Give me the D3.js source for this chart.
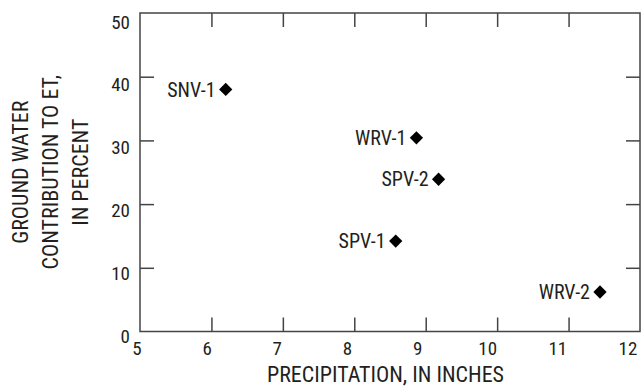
<!DOCTYPE html>
<html>
<head>
<meta charset="utf-8">
<script src="https://cdn.jsdelivr.net/npm/d3@7"></script>
<style>
  html, body { margin: 0; padding: 0; background: #fff; }
  svg text { font-family: "Roboto Condensed", "Roboto", sans-serif; fill: #231f20; }
</style>
</head>
<body>
<svg id="chart" width="641" height="387"></svg>
<script>
const sites = ["SNV-1", "WRV-1", "SPV-2", "SPV-1", "WRV-2"];
const precipitation = [6.2, 8.87, 9.18, 8.58, 11.44];
const gwContribution = [38.0, 30.4, 23.9, 14.2, 6.2];
const xTicks = [5, 6, 7, 8, 9, 10, 11, 12];
const yTicks = [0, 10, 20, 30, 40, 50];
const xTitle = "PRECIPITATION, IN INCHES";
const yTitleLines = ["GROUND WATER", "CONTRIBUTION TO ET,", "IN PERCENT"];

const svg = d3.select("#chart");
const L = 140, R = 640, T = 13, B = 331.5;
const x = d3.scaleLinear().domain([5, 12]).range([L, R]);
const y = d3.scaleLinear().domain([0, 50]).range([B, T]);
// tick labels in the original figure sit on a slightly tighter grid than the ticks
const xLab = d3.scaleLinear().domain([5, 12]).range([137, 628]);
const yLab = d3.scaleLinear().domain([0, 50]).range([336, 21.7]);
const tickLen = 14;
const axisColor = "#444";

// frame
svg.append("rect")
  .attr("x", L).attr("y", T).attr("width", R - L).attr("height", B - T)
  .attr("fill", "none").attr("stroke", axisColor).attr("stroke-width", 1.5);

// inner tick marks on all four sides
const gB = svg.append("g").attr("transform", `translate(0,${B})`)
  .call(d3.axisBottom(x).tickValues(xTicks.slice(1, -1)).tickSize(-tickLen).tickFormat(""));
const gT = svg.append("g").attr("transform", `translate(0,${T})`)
  .call(d3.axisTop(x).tickValues(xTicks.slice(1, -1)).tickSize(-tickLen).tickFormat(""));
const gL = svg.append("g").attr("transform", `translate(${L},0)`)
  .call(d3.axisLeft(y).tickValues(yTicks.slice(1, -1)).tickSize(-tickLen).tickFormat(""));
const gR = svg.append("g").attr("transform", `translate(${R},0)`)
  .call(d3.axisRight(y).tickValues(yTicks.slice(1, -1)).tickSize(-tickLen).tickFormat(""));
[gB, gT, gL, gR].forEach(g => {
  g.select(".domain").remove();
  g.selectAll(".tick line").attr("stroke", axisColor).attr("stroke-width", 1.5);
});

// tick labels
svg.append("g").selectAll("text").data(xTicks).join("text")
  .attr("x", d => xLab(d)).attr("y", 355)
  .attr("text-anchor", "middle").attr("font-size", 19)
  .text(d => d);
svg.append("g").selectAll("text").data(yTicks).join("text")
  .attr("x", 130).attr("y", d => yLab(d)).attr("dy", "0.36em")
  .attr("text-anchor", "end").attr("font-size", 19)
  .text(d => d);

// points
const pts = sites.map((s, i) => ({ s, px: precipitation[i], gw: gwContribution[i] }));
const marker = d3.symbol().type(d3.symbolSquare).size(88);
svg.append("g").selectAll("path").data(pts).join("path")
  .attr("d", marker)
  .attr("transform", d => `translate(${x(d.px)},${y(d.gw)}) rotate(45)`)
  .attr("fill", "#000");

svg.append("g").selectAll("text").data(pts).join("text")
  .attr("x", d => x(d.px) - 10)
  .attr("y", d => y(d.gw))
  .attr("dy", "0.36em")
  .attr("text-anchor", "end")
  .attr("font-size", 20)
  .text(d => d.s);

// titles
svg.append("text")
  .attr("x", 385.5).attr("y", 381.5)
  .attr("text-anchor", "middle")
  .attr("font-size", 22)
  .text(xTitle);

const yt = svg.append("text")
  .attr("transform", `translate(0,${(T + B) / 2}) rotate(-90)`)
  .attr("text-anchor", "middle")
  .attr("font-size", 22);
yTitleLines.forEach((t, i) => {
  yt.append("tspan").attr("x", 0).attr("y", 28 + i * 30).text(t);
});
</script>
</body>
</html>
